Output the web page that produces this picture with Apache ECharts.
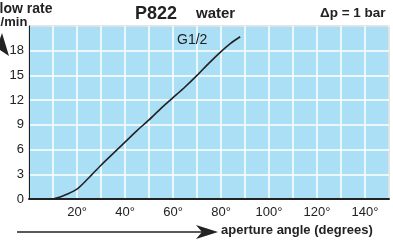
<!DOCTYPE html>
<html>
<head>
<meta charset="utf-8">
<script src="https://cdn.jsdelivr.net/npm/echarts@6/dist/echarts.min.js"></script>
<style>
  html, body { margin: 0; padding: 0; background: #fff; }
  #chart { width: 393px; height: 240px; }
</style>
</head>
<body>
<div id="chart"></div>
<script>
// aperture angle (deg) vs flow rate (l/min)
var angles = [10, 13, 16, 20, 23, 26, 30, 35, 40, 45, 50, 55, 60, 65, 70, 75, 80, 84, 88];
var flows = [0, 0.25, 0.6, 1.2, 2.0, 2.9, 4.1, 5.5, 6.9, 8.3, 9.6, 11.0, 12.3, 13.6, 15.0, 16.5, 17.9, 18.9, 19.7];
var yTicks = [0, 3, 6, 9, 12, 15, 18];
var xTicks = [20, 40, 60, 80, 100, 120, 140];

var font = '"Liberation Sans", Arial, sans-serif';
var ink = '#222';
var points = angles.map(function (a, i) { return [a, flows[i]]; });

var chart = echarts.init(document.getElementById('chart'));
chart.setOption({
  animation: false,
  grid: {
    left: 29, right: 4, top: 26, bottom: 41,
    show: true,
    backgroundColor: '#abdff6',
    borderColor: '#333',
    borderWidth: 1
  },
  xAxis: {
    type: 'value', min: 0, max: 150, interval: 10,
    axisLine: { show: true, lineStyle: { color: ink, width: 2 } },
    axisTick: { show: false },
    splitLine: { show: true, lineStyle: { color: '#fff', width: 1.5 } },
    axisLabel: {
      margin: 7, color: ink, fontFamily: font, fontSize: 13,
      formatter: function (v) { return xTicks.indexOf(v) >= 0 ? v + '°' : ''; }
    }
  },
  yAxis: {
    type: 'value', min: 0, max: 21, interval: 3,
    axisLine: { show: true, lineStyle: { color: ink, width: 1 } },
    axisTick: { show: false },
    splitLine: { show: true, lineStyle: { color: '#fff', width: 1.5 } },
    axisLabel: {
      margin: 5, color: ink, fontFamily: font, fontSize: 13,
      formatter: function (v) { return yTicks.indexOf(v) >= 0 ? String(v) : ''; }
    }
  },
  graphic: [
    // left side bits are clipped by the page edge like in the scan
    { type: 'text', x: -9, y: 2, z: 100, style: { text: 'Flow rate', font: 'bold 14px ' + font, fill: ink } },
    { type: 'text', x: -3, y: 16, z: 100, style: { text: 'l/min', font: 'bold 13px ' + font, fill: ink } },
    { type: 'polygon', z: 100, shape: { points: [[2, 33], [9, 56], [0, 50], [-6, 56]] }, style: { fill: ink } },
    { type: 'text', x: 135, y: 5, z: 100, style: { text: 'P822', font: 'bold 18px ' + font, fill: ink } },
    { type: 'text', x: 196, y: 6, z: 100, style: { text: 'water', font: 'bold 15px ' + font, fill: ink } },
    { type: 'text', x: 320, y: 6, z: 100, style: { text: 'Δp = 1 bar', font: 'bold 13.5px ' + font, fill: ink } },
    { type: 'text', x: 177, y: 33, z: 100, style: { text: 'G1/2', font: '14px ' + font, fill: ink } },
    { type: 'line', z: 100, shape: { x1: 17, y1: 232, x2: 205, y2: 232 }, style: { stroke: ink, lineWidth: 1.5 } },
    { type: 'polygon', z: 100, shape: { points: [[218, 232], [196, 225], [202, 232], [196, 239]] }, style: { fill: ink } },
    { type: 'text', x: 221, y: 224, z: 100, style: { text: 'aperture angle (degrees)', font: 'bold 13px ' + font, fill: ink } }
  ],
  series: [{
    type: 'line',
    data: points,
    smooth: 0.25,
    showSymbol: false,
    lineStyle: { color: ink, width: 1.6 }
  }]
});
</script>
</body>
</html>
